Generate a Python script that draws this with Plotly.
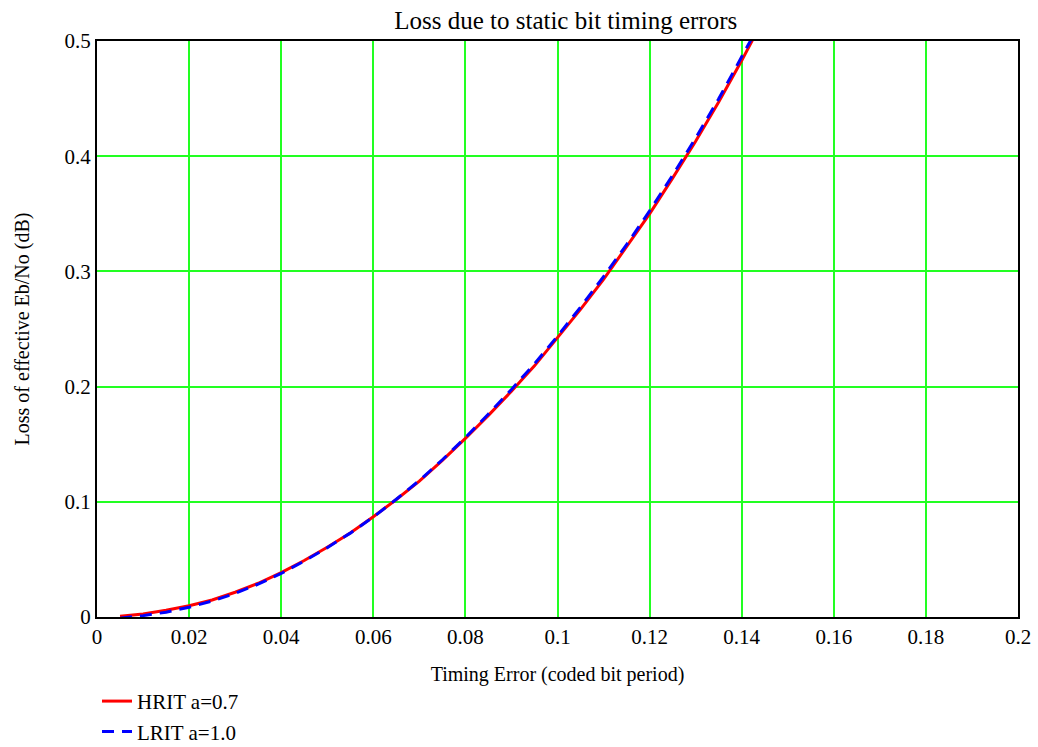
import plotly.graph_objects as go

timing_error = [0.005, 0.01, 0.015, 0.02, 0.025, 0.03, 0.035, 0.04, 0.045, 0.05,
                0.055, 0.06, 0.065, 0.07, 0.075, 0.08, 0.085, 0.09, 0.095, 0.1,
                0.105, 0.11, 0.115, 0.12, 0.125, 0.13, 0.135, 0.14, 0.145]
hrit_loss = [0.0006, 0.0026, 0.0058, 0.0098, 0.0148, 0.0215, 0.0293, 0.0385, 0.049, 0.0605,
             0.073, 0.087, 0.102, 0.118, 0.136, 0.155, 0.175, 0.196, 0.218, 0.242,
             0.267, 0.293, 0.321, 0.350, 0.381, 0.413, 0.447, 0.483, 0.521]
lrit_loss = [-0.001, 0.0012, 0.0042, 0.0085, 0.0138, 0.0205, 0.0285, 0.0378, 0.0485, 0.0602,
             0.0728, 0.0868, 0.1022, 0.1185, 0.1365, 0.1558, 0.1762, 0.1975, 0.2198, 0.2438,
             0.2690, 0.2955, 0.3232, 0.3525, 0.3835, 0.4158, 0.4498, 0.4855, 0.5228]

x_ticks = [0, 0.02, 0.04, 0.06, 0.08, 0.1, 0.12, 0.14, 0.16, 0.18, 0.2]
y_ticks = [0, 0.1, 0.2, 0.3, 0.4, 0.5]

serif = "Liberation Serif, Times New Roman, serif"
grid_green = "#22ff22"

fig = go.Figure()
fig.add_trace(go.Scatter(x=timing_error, y=hrit_loss, mode="lines", name="HRIT a=0.7",
                         line=dict(color="#ff0000", width=3)))
fig.add_trace(go.Scatter(x=timing_error, y=lrit_loss, mode="lines", name="LRIT a=1.0",
                         line=dict(color="#0000ff", width=3, dash="12px,8px")))

fig.update_layout(
    width=1038, height=747,
    margin=dict(l=97, r=20, t=41, b=130, autoexpand=False),
    paper_bgcolor="white", plot_bgcolor="white",
    font=dict(family=serif, color="black", size=21),
    title=dict(text="Loss due to static bit timing errors", xref="container", x=0.545,
               xanchor="center", y=0.973, yanchor="middle",
               font=dict(size=25, family=serif, color="black")),
    showlegend=True,
    legend=dict(x=0.0, y=-0.111, xanchor="left", yanchor="top", orientation="v",
                font=dict(size=21, family=serif), bgcolor="rgba(0,0,0,0)",
                itemwidth=30, tracegroupgap=0),
    xaxis=dict(range=[0, 0.2], tickvals=x_ticks, ticktext=[f"{v:g}" for v in x_ticks],
               showgrid=True, gridcolor=grid_green, gridwidth=1.5, zeroline=False,
               showline=True, linecolor="black", linewidth=2, mirror=True,
               ticks="", tickfont=dict(size=21), automargin=False,
               title=dict(text="Timing Error (coded bit period)", font=dict(size=20), standoff=19)),
    yaxis=dict(range=[0, 0.5], tickvals=y_ticks, ticktext=[f"{v:g}" for v in y_ticks],
               showgrid=True, gridcolor=grid_green, gridwidth=1.5, zeroline=False,
               showline=True, linecolor="black", linewidth=2, mirror=True,
               ticks="", tickfont=dict(size=21), automargin=False,
               title=dict(text="Loss of effective Eb/No (dB)", font=dict(size=20), standoff=30)),
)

fig.write_html("out.html")
